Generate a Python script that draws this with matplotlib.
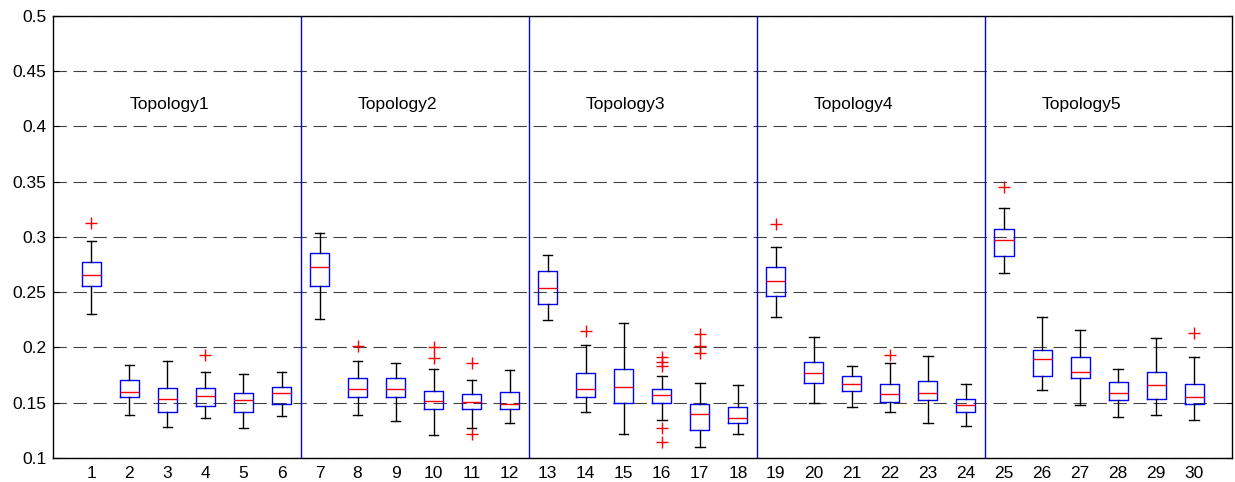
import matplotlib
matplotlib.use("Agg")
import matplotlib.pyplot as plt
import numpy as np

plt.rcParams["font.family"] = ["Liberation Sans", "DejaVu Sans"]

### box statistics (one entry per box, 1..30)
whislo = [0.2306, 0.1388, 0.1277, 0.1364, 0.1268, 0.1376,
          0.2261, 0.1388, 0.1331, 0.1205, 0.1268, 0.1319,
          0.2249, 0.1418, 0.1217, 0.1340, 0.1096, 0.1217,
          0.2273, 0.1500, 0.1460, 0.1415, 0.1316, 0.1289,
          0.2676, 0.1611, 0.1476, 0.1368, 0.1389, 0.1344]
q1 = [0.2553, 0.1548, 0.1415, 0.1473, 0.1415, 0.1488,
      0.2553, 0.1548, 0.1548, 0.1440, 0.1440, 0.1440,
      0.2394, 0.1548, 0.1500, 0.1500, 0.1253, 0.1316,
      0.2469, 0.1680, 0.1608, 0.1509, 0.1524, 0.1415,
      0.2824, 0.1744, 0.1723, 0.1527, 0.1536, 0.1488]
med = [0.2653, 0.1600, 0.1536, 0.1560, 0.1527, 0.1587,
       0.2728, 0.1626, 0.1626, 0.1512, 0.1503, 0.1488,
       0.2541, 0.1623, 0.1644, 0.1572, 0.1400, 0.1364,
       0.2604, 0.1771, 0.1671, 0.1575, 0.1587, 0.1476,
       0.2971, 0.1894, 0.1774, 0.1587, 0.1659, 0.1551]
q3 = [0.2777, 0.1707, 0.1635, 0.1635, 0.1587, 0.1644,
      0.2851, 0.1722, 0.1722, 0.1608, 0.1575, 0.1596,
      0.2689, 0.1768, 0.1804, 0.1623, 0.1488, 0.1460,
      0.2725, 0.1867, 0.1743, 0.1671, 0.1695, 0.1533,
      0.3070, 0.1978, 0.1915, 0.1686, 0.1774, 0.1671]
whishi = [0.2960, 0.1843, 0.1879, 0.1780, 0.1759, 0.1780,
          0.3032, 0.1879, 0.1855, 0.1804, 0.1707, 0.1792,
          0.2836, 0.2026, 0.2222, 0.1743, 0.1680, 0.1659,
          0.2905, 0.2090, 0.1831, 0.1855, 0.1918, 0.1671,
          0.3266, 0.2276, 0.2159, 0.1807, 0.2087, 0.1915]
fliers = [[0.313], [], [], [0.1927], [], [],
          [], [0.2014], [], [0.2002, 0.1906], [0.1855, 0.1217], [],
          [], [0.2144], [], [0.191, 0.187, 0.183, 0.1274, 0.1141], [0.2123, 0.2014, 0.1948], [],
          [0.3119], [], [], [0.193], [], [],
          [0.3452], [], [], [], [], [0.2126]]
groups = ["Topology1", "Topology2", "Topology3", "Topology4", "Topology5"]

stats = []
for i in range(len(med)):
    stats.append({"whislo": whislo[i], "q1": q1[i], "med": med[i],
                  "q3": q3[i], "whishi": whishi[i], "fliers": fliers[i]})

fig = plt.figure(figsize=(12.35, 4.82), dpi=100)
ax = fig.add_axes([0.0432, 0.050, 0.9545, 0.917])

pos = np.arange(1, len(med) + 1)
ax.bxp(stats, positions=pos, widths=0.5, showcaps=True,
       boxprops=dict(color="blue", linewidth=1.0),
       medianprops=dict(color="red", linewidth=1.0),
       whiskerprops=dict(color="black", linewidth=1.0, linestyle="-"),
       capprops=dict(color="black", linewidth=1.0),
       capwidths=0.25,
       flierprops=dict(marker="+", markeredgecolor="red", markersize=8, markeredgewidth=1.0, linestyle="none"),
       manage_ticks=False, zorder=3)

# separators between topologies
for k in range(1, len(groups)):
    ax.axvline(6 * k + 0.5, color="blue", linewidth=1.0, zorder=2)

for k, g in enumerate(groups):
    ax.text(6 * k + 2, 0.42, g, fontsize=12.5, ha="left", va="center")

ax.set_xlim(0, 31)
ax.set_ylim(0.1, 0.5)
ax.set_xticks(pos)
ax.set_xticklabels([str(p) for p in pos])
yt = np.arange(0.1, 0.501, 0.05)
ax.set_yticks(yt)
ax.set_yticklabels(["0.1", "0.15", "0.2", "0.25", "0.3", "0.35", "0.4", "0.45", "0.5"])
ax.yaxis.grid(True, linestyle=(0, (12, 6)), color="black", linewidth=0.8, alpha=0.75)
ax.set_axisbelow(True)
ax.tick_params(direction="in", top=True, right=True, labelsize=12.5, length=4, pad=5)
ax.tick_params(axis="x", length=0, pad=6)
for s in ax.spines.values():
    s.set_linewidth(1.0)

plt.savefig("out.png", dpi=100)
plt.close()
